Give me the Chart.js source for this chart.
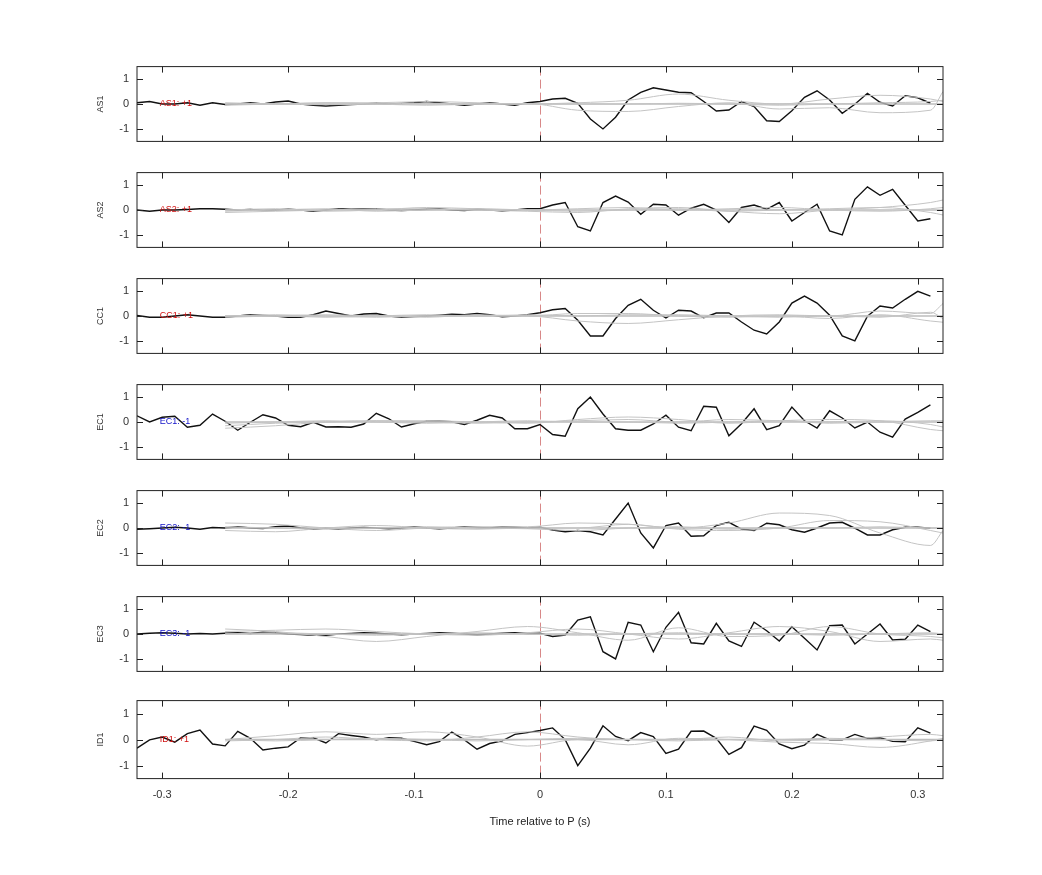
<!DOCTYPE html>
<html>
<head>
<meta charset="utf-8">
<script src="https://cdn.jsdelivr.net/npm/chart.js@4/dist/chart.umd.min.js"></script>
<style>
body { margin: 0; background: #fff; width: 1042px; height: 875px; position: relative; overflow: hidden; }
canvas.panel { position: absolute; left: 95px; }
</style>
</head>
<body>
<div id="paineis"></div>
<script>
// nomes dos canais e sinal do rotulo
var canais = ["AS1", "AS2", "CC1", "EC1", "EC2", "EC3", "ID1"];
var sinais = ["+1", "+1", "+1", "-1", "-1", "-1", "+1"];

var ticksX = [-0.3, -0.2, -0.1, 0, 0.1, 0.2, 0.3];
var ticksY = [-1, 0, 1];

// tempos do traco preto: -0.32 .. 0.31 em passos de 0.01
var tempos = [];
for (var i = 0; i < 64; i++) tempos.push(Math.round((-0.32 + i * 0.01) * 100) / 100);
// tempos das curvas cinzas
var temposCinza = [-0.25, -0.21, -0.17, -0.13, -0.09, -0.05, -0.01, 0.03, 0.07, 0.11, 0.15, 0.19, 0.23, 0.27, 0.31, 0.32];

var pretoAS1 = [0.05,0.1,0.0,0.0,0.05,-0.05,0.05,-0.02,0.0,0.05,0.0,0.08,0.12,0.0,-0.05,-0.08,-0.05,-0.02,0.0,0.03,0.0,0.02,0.05,0.1,0.05,0.0,-0.05,0.0,0.05,0.0,-0.05,0.05,
	0.1,0.2,0.23,0.03,-0.6,-1.0,-0.53,0.16,0.47,0.65,0.56,0.47,0.45,0.1,-0.28,-0.24,0.1,-0.1,-0.67,-0.7,-0.27,0.27,0.53,0.16,-0.37,-0.01,0.43,0.07,-0.08,0.33,0.25,0.03];
var pretoAS2 = [0.0,-0.05,0.0,0.0,0.02,0.05,0.05,0.03,0.0,0.02,-0.02,0.0,0.03,0.0,-0.05,0.0,0.05,0.03,0.05,0.05,0.0,-0.02,0.0,0.03,0.05,0.0,-0.02,0.03,0.0,-0.03,0.0,0.05,
	0.05,0.2,0.3,-0.67,-0.84,0.3,0.56,0.32,-0.17,0.23,0.2,-0.21,0.07,0.23,0.0,-0.5,0.1,0.2,0.03,0.3,-0.44,-0.1,0.23,-0.84,-1.0,0.43,0.93,0.59,0.83,0.19,-0.44,-0.35];
var pretoCC1 = [0.02,-0.05,-0.05,0.0,0.05,0.0,-0.05,-0.05,0.0,0.05,0.02,0.0,-0.05,-0.05,0.05,0.2,0.1,0.0,0.08,0.1,0.0,-0.05,-0.02,0.0,0.03,0.07,0.05,0.1,0.05,-0.03,0.0,0.05,
	0.13,0.25,0.3,-0.17,-0.8,-0.8,-0.1,0.43,0.67,0.23,-0.08,0.23,0.2,-0.07,0.12,0.12,-0.24,-0.57,-0.72,-0.24,0.52,0.8,0.52,0.03,-0.8,-1.0,-0.01,0.4,0.32,0.67,0.99,0.8];
var pretoEC1 = [0.25,0.0,0.19,0.23,-0.21,-0.13,0.32,0.03,-0.33,-0.01,0.29,0.16,-0.13,-0.19,-0.01,-0.2,-0.19,-0.21,-0.08,0.35,0.13,-0.2,-0.07,0.03,0.03,0.01,-0.1,0.07,0.27,0.16,-0.27,-0.27,
	-0.1,-0.5,-0.57,0.53,1.0,0.32,-0.27,-0.33,-0.33,-0.08,0.27,-0.21,-0.35,0.63,0.59,-0.55,-0.07,0.53,-0.31,-0.15,0.6,0.05,-0.24,0.45,0.16,-0.24,0.0,-0.41,-0.61,0.12,0.39,0.69];
var pretoEC2 = [-0.05,-0.03,0.0,0.03,0.0,-0.05,0.02,0.0,0.05,0.0,-0.02,0.05,0.08,0.0,-0.05,0.0,-0.05,0.0,0.02,0.0,-0.03,0.0,0.05,0.0,-0.03,0.0,0.05,0.02,0.0,0.05,0.03,0.0,
	0.03,-0.08,-0.15,-0.1,-0.15,-0.28,0.36,1.0,-0.2,-0.8,0.1,0.2,-0.33,-0.31,0.1,0.23,-0.04,-0.1,0.19,0.13,-0.07,-0.17,0.0,0.2,0.23,-0.01,-0.28,-0.28,-0.07,0.03,0.03,-0.01];
var pretoEC3 = [0.0,0.03,0.05,0.03,0.0,0.02,0.0,0.03,0.05,0.02,0.07,0.05,0.0,-0.02,-0.05,-0.05,0.0,0.02,0.05,0.03,0.0,-0.03,0.0,0.02,0.05,0.03,0.0,-0.03,0.0,0.03,0.05,0.02,
	0.03,-0.1,-0.04,0.56,0.69,-0.71,-1.0,0.47,0.36,-0.71,0.27,0.87,-0.35,-0.4,0.43,-0.28,-0.5,0.47,0.13,-0.28,0.29,-0.17,-0.64,0.33,0.36,-0.4,0.0,0.4,-0.24,-0.21,0.36,0.1];
var pretoID1 = [-0.33,-0.01,0.1,-0.1,0.23,0.37,-0.17,-0.24,0.32,0.05,-0.4,-0.33,-0.28,0.07,0.07,-0.13,0.23,0.16,0.1,-0.01,0.07,0.05,-0.07,-0.2,-0.08,0.29,-0.01,-0.37,-0.15,-0.05,0.2,0.27,
	0.35,0.45,0.0,-1.0,-0.33,0.53,0.12,-0.04,0.27,0.12,-0.53,-0.37,0.32,0.33,0.05,-0.57,-0.31,0.52,0.36,-0.17,-0.35,-0.21,0.2,-0.01,-0.01,0.2,0.05,0.07,-0.07,-0.08,0.45,0.25];

// curvas cinzas (tres por canal)
var cinzaAS1 = [
	[0,0,0.05,0,-0.05,0,0.02,-0.25,-0.3,-0.1,0.05,-0.2,-0.15,-0.35,-0.25,0.5],
	[-0.05,0,0.05,0.05,0.1,0.05,0,0.05,0.15,0.4,0.15,0,0.2,0.35,0.2,0.1],
	[0.05,0,-0.03,0,0.03,0,0,0,0,0.03,0,-0.05,0,0.05,0.1,0.15]];
var cinzaAS2 = [
	[-0.1,-0.05,0,0.05,0.05,0,-0.05,-0.1,0.05,0.1,-0.05,-0.15,0,0.1,0.3,0.4],
	[0,0.05,-0.05,0,0.1,0.05,0,0.05,0.1,0,0.05,0.1,0,-0.05,0.05,0.1],
	[-0.05,0,0.05,-0.05,0,0.05,0,-0.05,0,0.05,-0.05,0,0.05,0.1,-0.1,-0.2]];
var cinzaCC1 = [
	[0,0,-0.05,0,0.05,0,0,-0.2,-0.3,-0.15,0,0.05,0,0.2,0.1,0.5],
	[-0.05,0,0.05,0,-0.05,0.05,0,0.1,0.1,0,-0.05,0,-0.1,0.05,-0.2,-0.25],
	[0,0.05,0,-0.05,0,0,0.05,0,0.05,0.05,0,-0.05,0,-0.05,0.15,-0.1]];
var cinzaEC1 = [
	[-0.25,-0.15,0,0.05,0.05,0,-0.05,0.1,0.2,0.1,-0.05,0.05,0.1,0.05,-0.3,-0.35],
	[-0.15,-0.05,0,0.05,0,-0.05,0,0.05,0.1,0,0.1,0.05,0,0.05,-0.1,-0.2],
	[-0.05,0,0.05,0,-0.05,0,0.05,0,0,-0.05,0,0.05,-0.05,0,0.05,0.05]];
var cinzaEC2 = [
	[0.2,0.15,0,-0.1,0,0.05,0.05,0.2,0.15,0,0.2,0.6,0.5,-0.2,-0.7,-0.1],
	[-0.1,-0.15,0,0.1,0,-0.05,0,0,0.15,-0.05,-0.1,0,0.3,0.25,-0.1,-0.2],
	[0.05,0,-0.05,0,0.05,0,-0.03,-0.1,0,0.05,-0.05,0,0,0.05,0,0]];
var cinzaEC3 = [
	[0.2,0.1,-0.1,-0.3,-0.1,0.1,0.3,0.05,-0.25,0.25,-0.1,-0.05,0.3,0,-0.1,-0.15],
	[0.1,0.15,0.2,0.1,0,-0.05,0.05,0.2,0,-0.2,0.05,0.3,0.1,-0.3,-0.2,-0.25],
	[0,0.05,0,-0.05,0,0.05,0,-0.05,0,0.05,0,0,-0.05,0,0.05,0]];
var cinzaID1 = [
	[0,0.15,0.3,0.2,0.3,0.1,-0.25,0,-0.2,0.05,0,-0.1,-0.15,-0.3,-0.05,0.05],
	[-0.05,0,0.1,0,-0.05,0.1,0.3,0.1,0,0,0.1,-0.05,0,0.1,0.2,0.15],
	[0,-0.05,0,0.05,0,-0.05,0,0.05,0,-0.05,0,0,0.05,0,-0.05,0]];

var pretos = [pretoAS1, pretoAS2, pretoCC1, pretoEC1, pretoEC2, pretoEC3, pretoID1];
var cinzas = [cinzaAS1, cinzaAS2, cinzaCC1, cinzaEC1, cinzaEC2, cinzaEC3, cinzaID1];

function pares(xs, ys) {
	return ys.map(function (v, k) { return { x: xs[k], y: v }; });
}

// moldura, ticks para dentro, linha tracejada em t=0 e rotulo do canal
var pluginMoldura = {
	id: "moldura",
	beforeDatasetsDraw: function (chart, args, opts) {
		var ctx = chart.ctx, a = chart.chartArea;
		var sx = chart.scales.x;
		ctx.save();
		ctx.strokeStyle = "#d88888";
		ctx.lineWidth = 1;
		ctx.setLineDash([9, 4]);
		var x0 = Math.round(sx.getPixelForValue(0)) + 0.5;
		ctx.beginPath(); ctx.moveTo(x0, a.top); ctx.lineTo(x0, a.bottom); ctx.stroke();
		ctx.restore();
	},
	afterDatasetsDraw: function (chart, args, opts) {
		var ctx = chart.ctx, a = chart.chartArea;
		var sx = chart.scales.x, sy = chart.scales.y;
		ctx.save();
		ctx.strokeStyle = "#222";
		ctx.lineWidth = 1;
		ctx.strokeRect(a.left, a.top, a.right - a.left, a.bottom - a.top);
		ctx.beginPath();
		ticksX.forEach(function (t) {
			var px = Math.round(sx.getPixelForValue(t)) + 0.5;
			ctx.moveTo(px, a.bottom); ctx.lineTo(px, a.bottom - 6);
			ctx.moveTo(px, a.top); ctx.lineTo(px, a.top + 6);
		});
		ticksY.forEach(function (t) {
			var py = Math.round(sy.getPixelForValue(t)) + 0.5;
			ctx.moveTo(a.left, py); ctx.lineTo(a.left + 6, py);
			ctx.moveTo(a.right, py); ctx.lineTo(a.right - 6, py);
		});
		ctx.stroke();
		ctx.font = "9px 'Liberation Sans', Arial, sans-serif";
		ctx.fillStyle = opts.cor;
		ctx.textBaseline = "middle";
		ctx.fillText(opts.texto, sx.getPixelForValue(-0.302), sy.getPixelForValue(0));
		ctx.restore();
	}
};

var container = document.getElementById("paineis");
var topos = [66, 172, 278, 384, 490, 596, 702];

canais.forEach(function (nome, p) {
	var ultimo = p == canais.length - 1;
	var canvas = document.createElement("canvas");
	canvas.className = "panel";
	canvas.width = 865;
	canvas.height = ultimo ? 147 : 104;
	canvas.style.width = "865px";
	canvas.style.height = canvas.height + "px";
	canvas.style.top = (topos[p] - (ultimo ? 16 : 14)) + "px";
	container.appendChild(canvas);

	var datasets = [];
	cinzas[p].forEach(function (serie) {
		datasets.push({
			data: pares(temposCinza, serie),
			borderColor: "#c4c4c4", borderWidth: 1, tension: 0.4,
			cubicInterpolationMode: "monotone", pointRadius: 0
		});
	});
	datasets.push({
		data: pares([-0.25, 0.32], [0, 0]),
		borderColor: "#bdbdbd", borderWidth: 1.5, pointRadius: 0
	});
	datasets.push({
		data: pares(tempos, pretos[p]),
		borderColor: "#111", borderWidth: 1.4, pointRadius: 0, tension: 0
	});

	new Chart(canvas, {
		type: "line",
		data: { datasets: datasets },
		options: {
			responsive: false,
			animation: false,
			devicePixelRatio: 1,
			layout: { padding: { top: 6, right: 17, bottom: ultimo ? 0 : 6, left: 0 } },
			plugins: {
				legend: { display: false },
				tooltip: { enabled: false },
				moldura: { texto: nome + ": " + sinais[p], cor: sinais[p] == "+1" ? "#d01010" : "#1010c8" }
			},
			scales: {
				x: {
					type: "linear", min: -0.32, max: 0.32,
					display: ultimo,
					afterBuildTicks: function (s) { s.ticks = ticksX.map(function (v) { return { value: v }; }); },
					grid: { display: false, drawTicks: false },
					border: { display: false },
					ticks: {
						color: "#333", padding: 10,
						font: { size: 11, family: "'Liberation Sans', Arial, sans-serif" },
						callback: function (v) { return String(Math.round(v * 10) / 10); }
					},
					title: {
						display: true, text: "Time relative to P (s)", color: "#222",
						font: { size: 11, family: "'Liberation Sans', Arial, sans-serif" }
					}
				},
				y: {
					min: -1.5, max: 1.5,
					afterBuildTicks: function (s) { s.ticks = ticksY.map(function (v) { return { value: v }; }); },
					afterFit: function (s) { s.width = 42; },
					grid: { display: false, drawTicks: false },
					border: { display: false },
					ticks: {
						color: "#333", padding: 8,
						font: { size: 11, family: "'Liberation Sans', Arial, sans-serif" }
					},
					title: {
						display: true, text: nome, color: "#333", padding: 0,
						font: { size: 9, family: "'Liberation Sans', Arial, sans-serif" }
					}
				}
			}
		},
		plugins: [pluginMoldura]
	});
});
</script>
</body>
</html>
